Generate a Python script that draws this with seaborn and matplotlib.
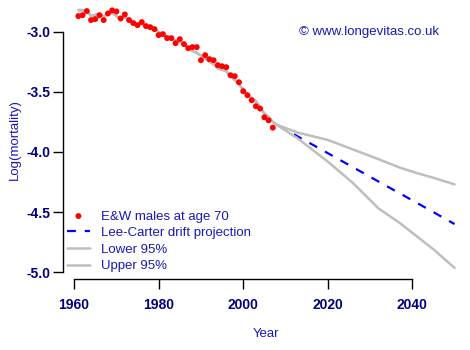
import pandas as pd
import matplotlib
matplotlib.use("Agg")
import matplotlib.pyplot as plt
import seaborn as sns

# Datos observados: log(mortalidad), hombres E&W edad 70
years_obs = list(range(1961, 2008))
log_mort = [-2.870, -2.862, -2.828, -2.903, -2.895, -2.862, -2.903, -2.848, -2.822, -2.831,
            -2.889, -2.856, -2.903, -2.928, -2.945, -2.920, -2.953, -2.962, -2.978, -3.028,
            -3.020, -3.053, -3.053, -3.095, -3.062, -3.103, -3.137, -3.128, -3.128, -3.237,
            -3.195, -3.228, -3.237, -3.278, -3.287, -3.295, -3.362, -3.370, -3.420, -3.495,
            -3.528, -3.570, -3.620, -3.639, -3.712, -3.737, -3.798]

# Valores ajustados (Lee-Carter) en el periodo observado
fitted = [-2.820, -2.820, -2.825, -2.870, -2.860, -2.855, -2.875, -2.850, -2.845, -2.865,
          -2.905, -2.875, -2.905, -2.925, -2.935, -2.930, -2.955, -2.965, -2.970, -3.005,
          -3.020, -3.040, -3.060, -3.075, -3.085, -3.100, -3.140, -3.160, -3.175, -3.200,
          -3.220, -3.250, -3.270, -3.305, -3.315, -3.330, -3.370, -3.400, -3.440, -3.480,
          -3.520, -3.550, -3.580, -3.630, -3.680, -3.710, -3.750]

# Proyección
years_proj = [2008, 2013, 2020, 2026, 2032, 2037, 2041, 2045, 2050]
centre_proj = [-3.775, -3.873, -4.010, -4.128, -4.246, -4.344, -4.422, -4.501, -4.600]
lower_proj = [-3.775, -3.890, -4.080, -4.260, -4.470, -4.590, -4.700, -4.810, -4.965]
upper_proj = [-3.775, -3.840, -3.900, -3.980, -4.060, -4.130, -4.175, -4.215, -4.270]

obs = pd.DataFrame({"Year": years_obs, "value": log_mort})
yrs = years_obs + years_proj
centre = pd.DataFrame({"Year": yrs, "value": fitted + centre_proj})
lower = pd.DataFrame({"Year": yrs, "value": fitted + lower_proj})
upper = pd.DataFrame({"Year": yrs, "value": fitted + upper_proj})

sns.set_style("ticks")
plt.rcParams["font.family"] = ["Liberation Sans", "DejaVu Sans"]

txt = "#1818B8"
tick_col = "#000080"

fig = plt.figure(figsize=(4.7, 3.5), dpi=100)
ax = fig.add_axes([63.3 / 470, 71.5 / 350, 406.3 / 470, 278.5 / 350])

sns.lineplot(data=centre, x="Year", y="value", ax=ax, color="blue", lw=1.6,
             label="Lee-Carter drift projection", zorder=2)
ax.lines[-1].set_dashes((4, 4))
sns.lineplot(data=lower, x="Year", y="value", ax=ax, color="#BEBEBE", lw=1.8,
             label="Lower 95%", zorder=3)
sns.lineplot(data=upper, x="Year", y="value", ax=ax, color="#BEBEBE", lw=1.8,
             label="Upper 95%", zorder=3)
sns.scatterplot(data=obs, x="Year", y="value", ax=ax, color="red", s=18,
                edgecolor="none", label="E&W males at age 70", zorder=4)

ax.set_xlim(1957.44, 2053.56)
ax.set_ylim(-5.053, -2.736)
ax.set_xticks([1960, 1980, 2000, 2020, 2040])
ax.set_yticks([-3.0, -3.5, -4.0, -4.5, -5.0])
ax.set_yticklabels(["-3.0", "-3.5", "-4.0", "-4.5", "-5.0"])

sns.despine(ax=ax)
ax.spines["left"].set_bounds(-5.0, -3.0)
ax.spines["bottom"].set_bounds(1960, 2040)
for s in ["left", "bottom"]:
    ax.spines[s].set_color("black")
    ax.spines[s].set_linewidth(1.0)
ax.tick_params(axis="both", length=7.2, width=1.0, color="black",
               labelsize=10, labelcolor=tick_col)
ax.tick_params(axis="x", pad=6.5)
ax.tick_params(axis="y", pad=2)
for lab in ax.get_xticklabels() + ax.get_yticklabels():
    lab.set_fontweight("bold")

ax.set_xlabel("Year", fontsize=9.5, color=txt, labelpad=12)
ax.set_ylabel("Log(mortality)", fontsize=9.5, color=txt, labelpad=4)

ax.text(0.925, 0.885, "\u00a9 www.longevitas.co.uk", transform=ax.transAxes,
        ha="right", va="center", fontsize=9.5, color=txt)

h, l = ax.get_legend_handles_labels()
order = [3, 0, 1, 2]
leg = ax.legend([h[i] for i in order], [l[i] for i in order], loc="upper left",
                bbox_to_anchor=(0.008, 0.245), frameon=False, fontsize=9.5,
                handlelength=1.8, handletextpad=0.8, labelspacing=0.33,
                borderpad=0, borderaxespad=0)
for t in leg.get_texts():
    t.set_color(txt)

fig.savefig("out.png", dpi=100)
